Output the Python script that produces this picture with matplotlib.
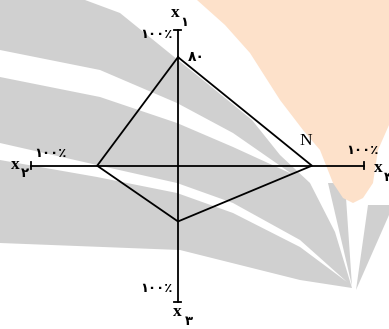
import numpy as np
import matplotlib
matplotlib.use('Agg')
import matplotlib.pyplot as plt
from matplotlib.patches import Polygon

# Datos: valor de cada eje (porcentaje)
ejes = ['۱', '۲', '۳', '۴']
valores = [80, 55, 41, 72]
etiqueta_max = '۱۰۰٪'
etiqueta_punto = '۸۰'
nombre_punto = 'N'

# Geometria del diagrama (pixeles de la figura)
centro = np.array([178.0, 165.7])
direcciones = np.array([[0, -1], [-1, 0], [0, 1], [1, 0]])
longitudes = np.array([135.7, 147.0, 136.0, 186.0])

W, H = 389, 329
fig = plt.figure(figsize=(W / 100, H / 100), dpi=100)
ax = fig.add_axes([0, 0, 1, 1])
ax.set_xlim(0, W)
ax.set_ylim(H, 0)
ax.axis('off')

# Marca de agua de fondo (decoracion)
gris = '#d0d0d0'
naranja = '#fde1ca'
fondo_gris = [(0, 0), (85, 0), (120, 13), (178, 60), (203, 80), (252, 120),
              (280, 155), (310, 183), (335, 232), (352, 288), (300, 280),
              (180, 250), (0, 243)]
franja1 = [(0, 50), (100, 70), (177, 103), (233, 133), (292, 174),
           (233, 147), (177, 123), (100, 97), (0, 77)]
franja2 = [(0, 143), (97, 165), (177, 183), (233, 203), (300, 240), (347, 282),
           (300, 247), (233, 213), (177, 193), (97, 177), (0, 160)]
rayo1 = [(328, 183), (345, 183), (352, 286)]
rayo2 = [(368, 205), (389, 205), (389, 215), (356, 290)]
mancha = [(197, 0), (389, 0), (389, 125), (378, 150), (373, 183), (363, 198),
          (353, 203), (343, 198), (333, 183), (320, 150), (303, 130),
          (280, 100), (250, 53), (225, 25)]
ax.add_patch(Polygon(fondo_gris, closed=True, fc=gris, ec='none', zorder=0))
ax.add_patch(Polygon(franja1, closed=True, fc='white', ec='none', zorder=0.5))
ax.add_patch(Polygon(franja2, closed=True, fc='white', ec='none', zorder=0.5))
ax.add_patch(Polygon(rayo1, closed=True, fc=gris, ec='none', zorder=0.5))
ax.add_patch(Polygon(rayo2, closed=True, fc=gris, ec='none', zorder=0.5))
ax.add_patch(Polygon(mancha, closed=True, fc=naranja, ec='none', zorder=0.6))

lw = 1.3
# Ejes
for d, L in zip(direcciones, longitudes):
    fin = centro + d * L
    ax.plot([centro[0], fin[0]], [centro[1], fin[1]], color='black', lw=lw, zorder=2)
    perp = np.array([d[1], d[0]]) * 3.5
    ax.plot([fin[0] - perp[0], fin[0] + perp[0]], [fin[1] - perp[1], fin[1] + perp[1]],
            color='black', lw=lw, zorder=2)

# Poligono
pts = np.array([centro + d * L * v / 100 for d, L, v in zip(direcciones, longitudes, valores)])
cerrado = np.vstack([pts, pts[:1]])
ax.plot(cerrado[:, 0], cerrado[:, 1], color='black', lw=lw, zorder=3)

serif = 'Liberation Serif'
persa = 'DejaVu Sans'
fx = 12.5
fs = 9.5
fp = 9.5

# Etiquetas de los ejes
fin = [centro + d * L for d, L in zip(direcciones, longitudes)]
# x1 arriba
ax.text(fin[0][0] - 3, fin[0][1] - 17, 'x', family=serif, weight='bold', fontsize=fx,
        ha='center', va='center')
ax.text(fin[0][0] + 6, fin[0][1] - 8, ejes[0], family=persa, weight='bold', fontsize=fs,
        ha='center', va='center')
ax.text(fin[0][0] - 5, fin[0][1] + 4, etiqueta_max, family=persa, weight='bold', fontsize=fp,
        ha='right', va='center')
# x2 izquierda
ax.text(fin[1][0] - 16, fin[1][1] - 1, 'x', family=serif, weight='bold', fontsize=fx,
        ha='center', va='center')
ax.text(fin[1][0] - 6, fin[1][1] + 8, ejes[1], family=persa, weight='bold', fontsize=fs,
        ha='center', va='center')
ax.text(fin[1][0] + 3, fin[1][1] - 12, etiqueta_max, family=persa, weight='bold', fontsize=fp,
        ha='left', va='center')
# x3 abajo
ax.text(fin[2][0] - 1, fin[2][1] + 10, 'x', family=serif, weight='bold', fontsize=fx,
        ha='center', va='center')
ax.text(fin[2][0] + 11, fin[2][1] + 20, ejes[2], family=persa, weight='bold', fontsize=fs,
        ha='center', va='center')
ax.text(fin[2][0] - 5, fin[2][1] - 13, etiqueta_max, family=persa, weight='bold', fontsize=fp,
        ha='right', va='center')
# x4 derecha (recortado por el borde)
ax.text(fin[3][0] + 14, fin[3][1] + 2, 'x', family=serif, weight='bold', fontsize=fx,
        ha='center', va='center')
ax.text(fin[3][0] + 24, fin[3][1] + 12, ejes[3], family=persa, weight='bold', fontsize=fs,
        ha='center', va='center')
ax.text(fin[3][0] - 2, fin[3][1] - 15, etiqueta_max, family=persa, weight='bold', fontsize=fp,
        ha='center', va='center')

# Etiquetas de vertices
ax.text(pts[0][0] + 10, pts[0][1], etiqueta_punto, family=persa, weight='bold', fontsize=10,
        ha='left', va='center')
ax.text(pts[3][0] - 6, pts[3][1] - 25, nombre_punto, family=serif, fontsize=12.5,
        ha='center', va='center')

plt.savefig('out.png', dpi=100)
